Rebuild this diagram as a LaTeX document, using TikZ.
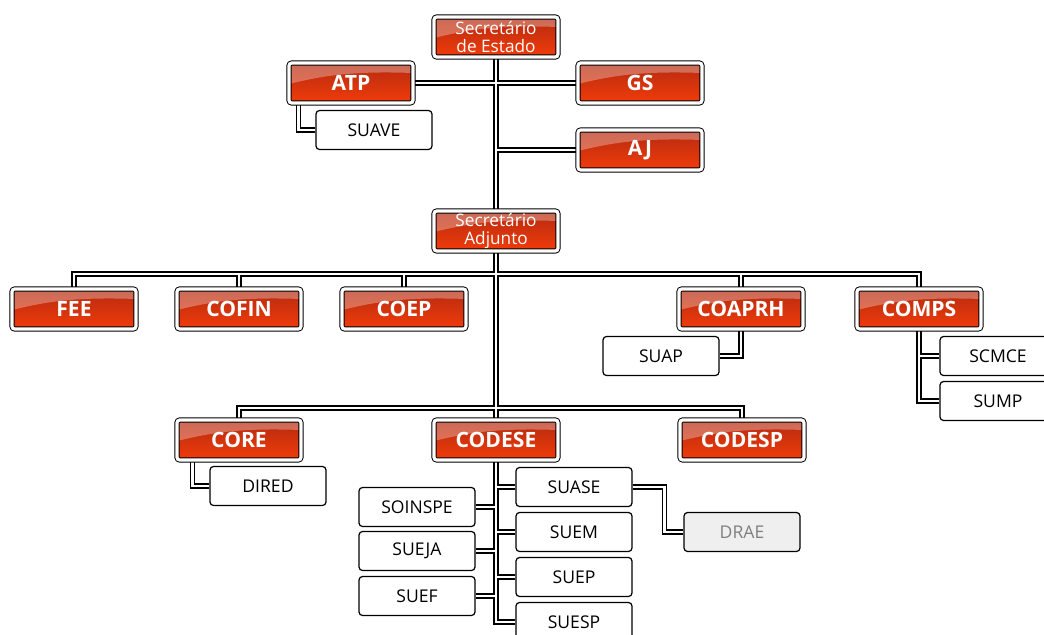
\documentclass[tikz,border=0pt]{standalone}
\usepackage{fontspec}
\setmainfont{Open Sans}
\usetikzlibrary{backgrounds}
\definecolor{rtop}{HTML}{B42A10}
\definecolor{rmid}{HTML}{C62E0C}
\definecolor{rbot}{HTML}{F23C0A}
\definecolor{draefill}{HTML}{EFEFEF}
\begin{document}
\begin{tikzpicture}[x=0.02cm,y=-0.02cm,inner sep=0pt]
  \tikzstyle{r}=[rectangle,rounded corners=1.5pt,draw=black,line width=0.55pt,double=white,double distance=1.8pt,
    minimum width=2.48cm,minimum height=0.8cm,text=white,font=\fontsize{12}{14}\selectfont\bfseries,
    top color=rtop,middle color=rmid,bottom color=rbot,
    path picture={\fill[white,opacity=0.3](path picture bounding box.north west)--(path picture bounding box.north east)
      --([yshift=-0.2cm]path picture bounding box.north east)
      ..controls([xshift=-1.2cm,yshift=-0.16cm]path picture bounding box.north east)and([xshift=0.7cm,yshift=-0.25cm]path picture bounding box.north west)
      ..([yshift=-0.42cm]path picture bounding box.north west)--cycle;}]
  \tikzstyle{rs}=[r,font=\fontsize{9.8}{10.5}\selectfont,align=center]
  \tikzstyle{w}=[rectangle,rounded corners=2pt,draw=black,line width=0.7pt,fill=white,
    minimum width=2.32cm,minimum height=0.78cm,font=\fontsize{10}{12}\selectfont]
  \useasboundingbox(0,0)rectangle(1044,635);
  % top level
  \node[rs](se)at(496,37){Secretário\\de Estado};
  \node[r](atp)at(351,83){ATP};
  \node[r](gs)at(640,83){GS};
  \node[w](suave)at(374,130){SUAVE};
  \node[r](aj)at(640,150){AJ};
  \node[rs](sa)at(496,231){Secretário\\Adjunto};
  % coordinations
  \node[r](fee)at(74,309){FEE};
  \node[r](cofin)at(239,309){COFIN};
  \node[r](coep)at(404,309){COEP};
  \node[r](coaprh)at(741,309){COAPRH};
  \node[r](comps)at(919,309){COMPS};
  \node[w](suap)at(661,356){SUAP};
  \node[w](scmce)at(998,356){SCMCE};
  \node[w](sump)at(998,401){SUMP};
  \node[r](core)at(239,440){CORE};
  \node[r](codese)at(496,440){CODESE};
  \node[r](codesp)at(742,440){CODESP};
  \node[w](dired)at(268,486){DIRED};
  % superintendencies
  \node[w](soinspe)at(417,507){SOINSPE};
  \node[w](sueja)at(417,551){SUEJA};
  \node[w](suef)at(417,596){SUEF};
  \node[w](suase)at(574,487){SUASE};
  \node[w](suem)at(574,532){SUEM};
  \node[w](suep)at(574,577){SUEP};
  \node[w](suesp)at(574,622){SUESP};
  \node[w,fill=draefill,text=black!50](drae)at(742,532){DRAE};
  \coordinate(b2)at(496,274);
  \coordinate(b3)at(496,408);
  \begin{scope}[on background layer]
  \foreach\lw/\lc in{3pt/black,1.6pt/white}{
    \draw[line width=\lw,draw=\lc]
      (se.south)--(codese.north)
      (atp.east)--(gs.west)
      (aj.west)--(aj.west-|se.south)
      ([xshift=0.2cm]atp.south west)|-(suave.west)
      (fee.north)|-(b2) (cofin.north)|-(b2) (coep.north)|-(b2) (coaprh.north)|-(b2) (comps.north)|-(b2)
      (coaprh.south)|-(suap.east)
      (comps.south)|-(scmce.west) (comps.south)|-(sump.west)
      (core.north)|-(b3) (codesp.north)|-(b3)
      ([xshift=0.32cm]core.south west)|-(dired.west)
      (codese.south)|-(suase.west) (codese.south)|-(suem.west) (codese.south)|-(suep.west) (codese.south)|-(suesp.west)
      (codese.south)|-(soinspe.east) (codese.south)|-(sueja.east) (codese.south)|-(suef.east)
      (suase.east)--++(32,0)|-(drae.west);
  }
  \end{scope}
\end{tikzpicture}
\end{document}
